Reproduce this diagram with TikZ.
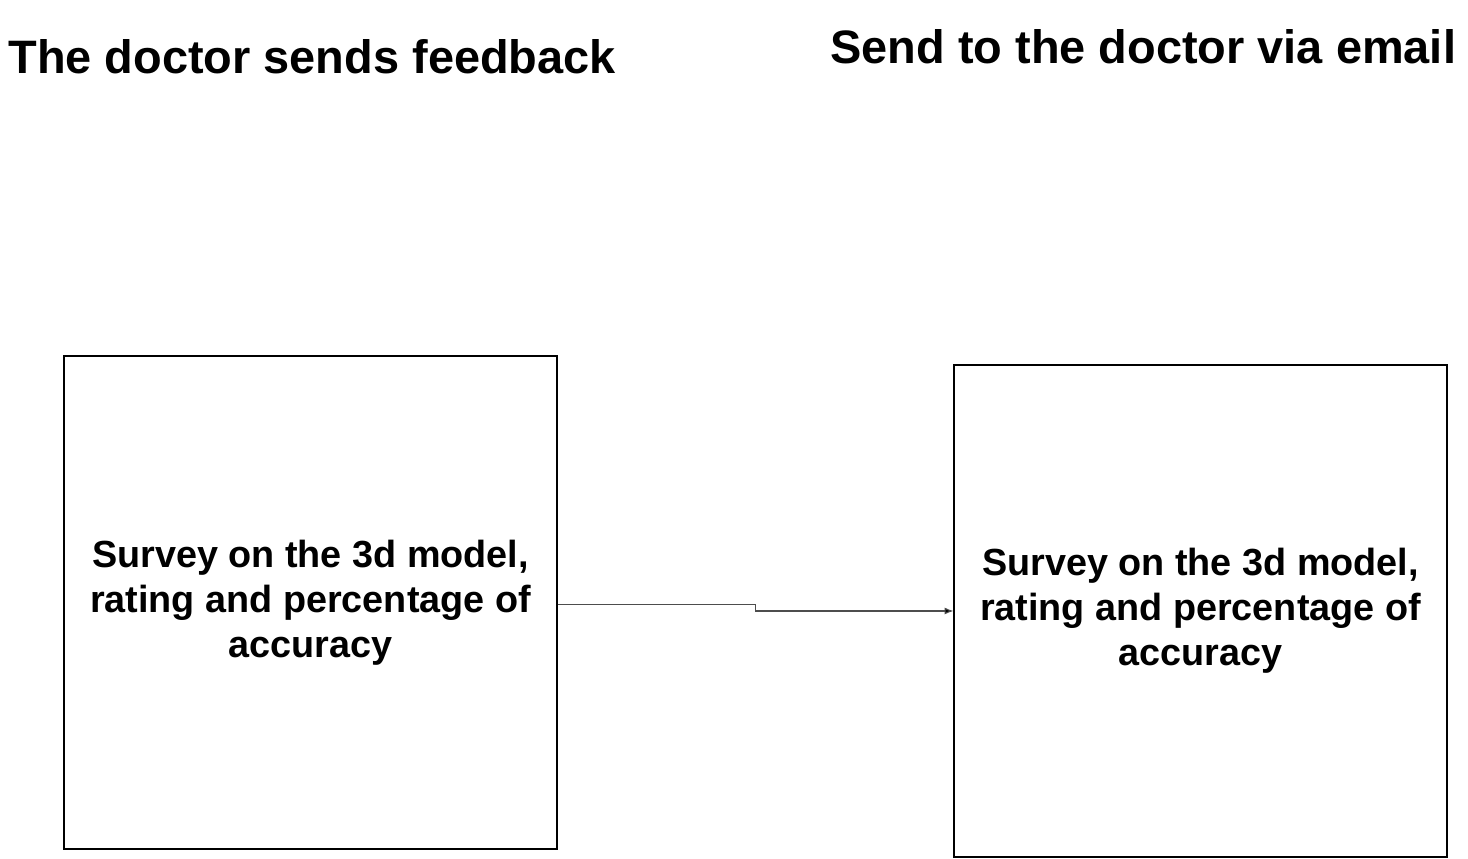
\documentclass[tikz,border=0pt]{standalone}
\usepackage{fontspec}
\setmainfont{Liberation Sans}
\usetikzlibrary{positioning,arrows.meta,calc}
\definecolor{ink}{HTML}{000000}
\definecolor{wire}{HTML}{4D4D4D}
\tikzset{
  surveybox/.style={draw=ink, line width=0.7pt, minimum width=9.86cm, minimum height=9.86cm,
    align=center, font=\fontsize{21.5}{25.5}\selectfont\bfseries, inner sep=0pt},
  heading/.style={anchor=west, font=\fontsize{26.7}{30}\selectfont\bfseries, inner sep=0pt},
}

\begin{document}
\begin{tikzpicture}[>=Latex]
        \useasboundingbox (0,0) rectangle (29.36,17.18);
        \node[heading] (fbtitle) at (0.16,16.04){The doctor sends feedback};
        \node[heading] (mailtitle) at (16.6,16.24){Send to the doctor via email};
        \node[surveybox] (fb) at (6.21,5.13){Survey on the 3d model,\\rating and percentage of\\accuracy};
        \node[surveybox, minimum height=9.84cm] (mail) at (24.01,4.96){Survey on the 3d model,\\rating and percentage of\\accuracy};
        \coordinate (mid) at ($(fb.east)!0.5!(mail.west)$);
        \draw[wire, line width=0.6pt, -{Latex[length=5pt,width=4pt,fill=ink]}] ([yshift=-0.04cm]fb.east) -| (mid) |- (mail.west);
      \end{tikzpicture}
\end{document}
